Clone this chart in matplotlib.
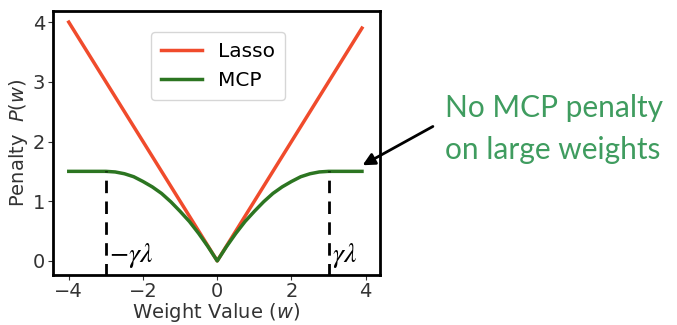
import matplotlib.pyplot as plt

# values
lasso_w = [-4.0, 0.0, 3.9]
lasso_p = [4.0, 0.0, 3.9]

mcp_w = [-4.0, -3.5, -3.0, -2.75, -2.5, -2.25, -2.0, -1.75, -1.5, -1.25, -1.0,
         -0.75, -0.5, -0.25, 0.0, 0.25, 0.5, 0.75, 1.0, 1.25, 1.5, 1.75, 2.0,
         2.25, 2.5, 2.75, 3.0, 3.5, 3.9]
mcp_p = [1.5, 1.5, 1.5, 1.49, 1.46, 1.41, 1.33, 1.24, 1.13, 0.99, 0.83,
         0.66, 0.46, 0.24, 0.0, 0.24, 0.46, 0.66, 0.83, 0.99, 1.13, 1.24, 1.33,
         1.41, 1.46, 1.49, 1.5, 1.5, 1.5]

cut_w = [-3.0, 3.0]
cut_p = 1.5
cut_labels = [r'$-\gamma\lambda$', r'$\gamma\lambda$']

fig = plt.figure(figsize=(6.77, 3.25), dpi=100)
ax = fig.add_axes([0.078, 0.155, 0.483, 0.81])

ax.plot(lasso_w, lasso_p, color='#f04b2c', lw=2.5, label='Lasso')
ax.plot(mcp_w, mcp_p, color='#2c7521', lw=2.5, label='MCP')
ax.vlines(cut_w, -0.25, cut_p, colors='black', linestyles=(0, (4.5, 3)), lw=2)

ax.text(cut_w[0] + 0.08, -0.02, cut_labels[0], fontsize=20, math_fontfamily='stix')
ax.text(cut_w[1] + 0.1, -0.02, cut_labels[1], fontsize=20, math_fontfamily='stix')

ax.set_xlim(-4.43, 4.38)
ax.set_ylim(-0.23, 4.18)
ax.set_xticks([-4, -2, 0, 2, 4])
ax.set_yticks([0, 1, 2, 3, 4])
ax.tick_params(labelsize=14, color='#333333', labelcolor='#333333', pad=2)
ax.set_xlabel('Weight Value $(w)$', fontsize=14, color='#333333', labelpad=0)
ax.set_ylabel('Penalty  $P(w)$', fontsize=14, color='#333333', labelpad=2)
for s in ax.spines.values():
    s.set_linewidth(2)

ax.legend(loc='upper center', fontsize=14.5, bbox_to_anchor=(0.505, 0.96),
          handlelength=2.0, borderpad=0.5)

fig.text(0.657, 0.603, 'No MCP penalty\non large weights', fontsize=21.5,
         color='#3f9c5f', family='Lato', linespacing=1.6, va='center')
ax.annotate('', xy=(3.85, 1.58), xytext=(0.643, 0.615), textcoords='figure fraction',
            arrowprops=dict(arrowstyle='-|>', color='black', lw=2, mutation_scale=18),
            annotation_clip=False)

fig.savefig('out.png', dpi=100)
